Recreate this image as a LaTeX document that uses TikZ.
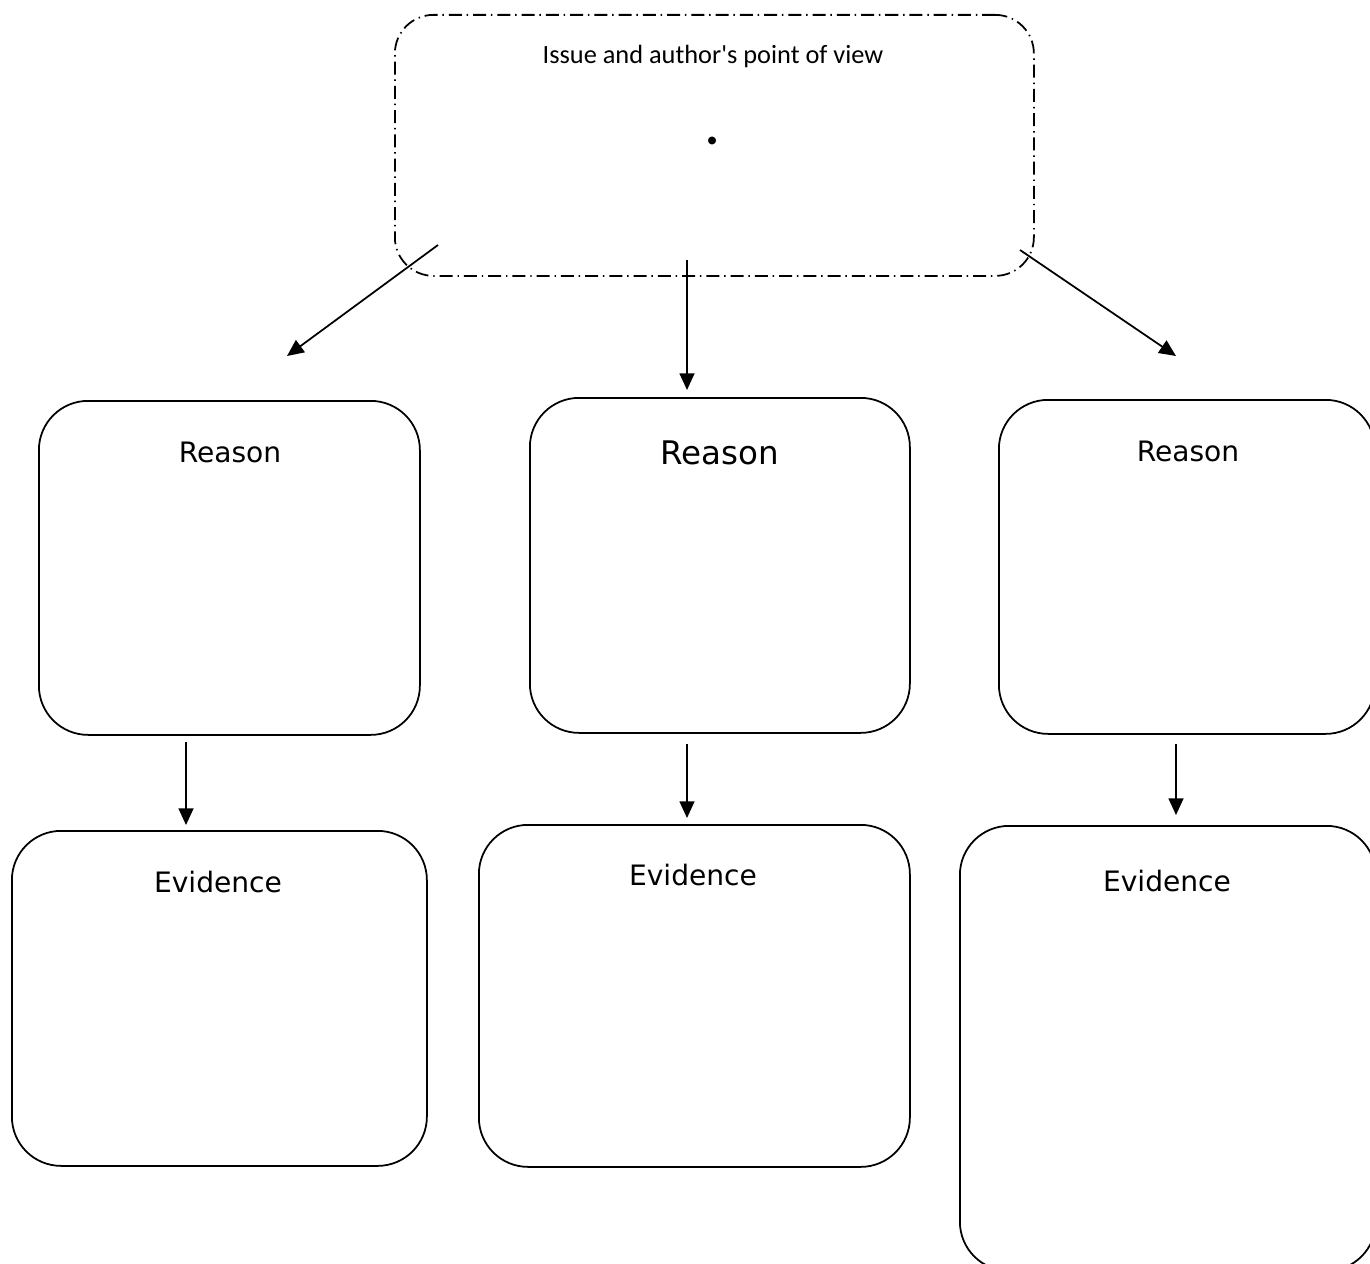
\documentclass[tikz,border=0pt]{standalone}
\usepackage{fontspec}
\setmainfont{DejaVu Sans}
\newfontfamily\calfont{Carlito}
\usetikzlibrary{arrows.meta}
\begin{document}
\begin{tikzpicture}[x=0.02cm,y=-0.02cm,
  box/.style={draw=black,line width=1pt,rounded corners=28pt},
  issuebox/.style={draw=black,line width=1pt,rounded corners=22pt,
    dash pattern=on 7.4pt off 2.8pt on 0.8pt off 2.8pt},
  lbl/.style={font=\fontsize{16}{19}\selectfont,inner sep=0pt},
  arr/.style={line width=1pt,-{Triangle[length=9.5pt,width=8.5pt]}}]
\useasboundingbox (0,0) rectangle (1370,1264);
\clip (0,0) rectangle (1370,1264);
% top box
\node[issuebox,minimum width=639*0.02cm,minimum height=261*0.02cm,anchor=north west] (issue) at (394,14) {};
\node[inner sep=0pt,font=\calfont\fontsize{15}{18}\selectfont] (issuetxt) at (713,56) {Issue and author's point of view};
\node[inner sep=0pt,font=\calfont\bfseries\fontsize{30}{32}\selectfont] (dot) at (713,141) {.};
% reason boxes
\node[box,minimum width=381*0.02cm,minimum height=334*0.02cm,anchor=north west] (r1) at (38,400) {};
\node[box,minimum width=380*0.02cm,minimum height=335*0.02cm,anchor=north west] (r2) at (529,397) {};
\node[box,minimum width=376*0.02cm,minimum height=334*0.02cm,anchor=north west] (r3) at (998,399) {};
\node[lbl] (r1t) at (230,452) {Reason};
\node[lbl,font=\fontsize{18.5}{22}\selectfont] (r2t) at (720,453) {Reason};
\node[lbl] (r3t) at (1188,451) {Reason};
% evidence boxes
\node[box,minimum width=415*0.02cm,minimum height=335*0.02cm,anchor=north west] (e1) at (11,830) {};
\node[box,minimum width=431*0.02cm,minimum height=342*0.02cm,anchor=north west] (e2) at (478,824) {};
\node[box,minimum width=416*0.02cm,minimum height=445*0.02cm,anchor=north west] (e3) at (959,825) {};
\node[lbl] (e1t) at (218,882) {Evidence};
\node[lbl] (e2t) at (693,875) {Evidence};
\node[lbl] (e3t) at (1167,881) {Evidence};
% arrow coordinates
\coordinate (a1s) at (438,245);
\coordinate (a1e) at (287,356);
\coordinate (a2s) at (687,260);
\coordinate (a2e) at (687,390);
\coordinate (a3s) at (1020,250);
\coordinate (a3e) at (1176,356);
\coordinate (b1s) at (186,742);
\coordinate (b1e) at (186,825);
\coordinate (b2s) at (687,744);
\coordinate (b2e) at (687,818);
\coordinate (b3s) at (1176,744);
\coordinate (b3e) at (1176,815);
\draw[arr] (a1s) -- (a1e);
\draw[arr] (a2s) -- (a2e);
\draw[arr] (a3s) -- (a3e);
\draw[arr] (b1s) -- (b1e);
\draw[arr] (b2s) -- (b2e);
\draw[arr] (b3s) -- (b3e);
\end{tikzpicture}
\end{document}
